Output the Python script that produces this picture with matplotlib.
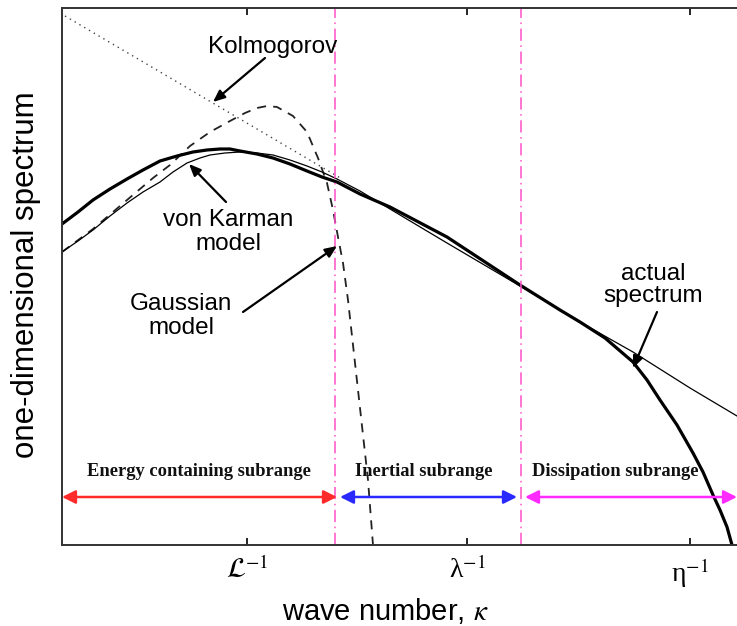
import matplotlib
matplotlib.use("Agg")
import matplotlib.pyplot as plt

# ---- data (x: log wave number, arbitrary units; y: log spectrum, arbitrary units)
actual_x = [0.00, 0.16, 0.31, 0.48, 0.65, 0.81, 0.98, 1.15, 1.31, 1.45, 1.58, 1.68,
            1.78, 1.95, 2.11, 2.28, 2.45, 2.60, 2.75, 2.98, 3.28, 3.85, 4.58, 4.98,
            5.18, 5.43, 5.71, 5.85, 5.98, 6.15, 6.31, 6.41, 6.51, 6.58, 6.65, 6.70]
actual_y = [3.21, 3.33, 3.45, 3.56, 3.66, 3.75, 3.84, 3.89, 3.93, 3.95, 3.96, 3.96,
            3.94, 3.91, 3.87, 3.81, 3.74, 3.68, 3.63, 3.51, 3.38, 3.08, 2.60, 2.35,
            2.23, 2.07, 1.83, 1.65, 1.45, 1.20, 0.92, 0.73, 0.50, 0.35, 0.18, 0.00]

karman_x = [0.00, 0.16, 0.31, 0.48, 0.65, 0.81, 0.98, 1.11, 1.25, 1.38, 1.48, 1.63,
            1.78, 1.95, 2.11, 2.28, 2.45, 2.60, 2.75, 2.98, 3.28, 3.85, 4.58, 5.25,
            5.71, 6.28, 6.75]
karman_y = [2.93, 3.04, 3.15, 3.29, 3.42, 3.53, 3.63, 3.73, 3.82, 3.87, 3.90, 3.92,
            3.93, 3.92, 3.90, 3.85, 3.79, 3.73, 3.66, 3.54, 3.36, 3.02, 2.59, 2.19,
            1.93, 1.57, 1.29]

gauss_x = [0.00, 0.31, 0.65, 0.91, 1.08, 1.28, 1.48, 1.68, 1.83, 1.95, 2.05, 2.15, 2.31,
           2.45, 2.56, 2.65, 2.71, 2.76, 2.81, 2.86, 2.91, 2.96, 3.01, 3.06, 3.11]
gauss_y = [2.93, 3.16, 3.45, 3.67, 3.80, 3.99, 4.13, 4.24, 4.32, 4.37, 4.39, 4.38, 4.29,
           4.13, 3.87, 3.62, 3.35, 3.08, 2.82, 2.45, 2.00, 1.55, 1.10, 0.65, 0.00]

kolmogorov_x = [0.03, 2.80]
kolmogorov_y = [5.29, 3.66]

tick_pos = [1.85, 4.05, 6.28]
tick_labels = [r'$\mathcal{L}^{-1}$', 'λ$^{-1}$', 'η$^{-1}$']

boundaries = [2.73, 4.59]
range_names = ["Energy containing subrange", "Inertial subrange", "Dissipation subrange"]
range_starts = [0.00, 2.78, 4.63]
range_ends = [2.75, 4.55, 6.75]
range_label_x = [1.37, 3.62, 5.53]
range_colors = ["#ff2a2a", "#2a2aff", "#ff2aff"]

# ---- figure
plt.rcParams['mathtext.fontset'] = 'stix'
fig = plt.figure(figsize=(7.37, 6.26), dpi=100)
W, H = 737, 626
ax = fig.add_axes([62 / W, (H - 545) / H, (737 - 62) / W, (545 - 8) / H])
ax.set_xlim(0, 6.75)
ax.set_ylim(0, 5.37)

ax.plot(kolmogorov_x, kolmogorov_y, color="#444444", lw=1.0, ls=(0, (1, 3)))
ax.plot(gauss_x, gauss_y, color="#222222", lw=1.3, ls=(0, (5, 4)))
ax.plot(karman_x, karman_y, color="black", lw=0.9)
ax.plot(actual_x, actual_y, color="black", lw=2.3, solid_joinstyle="round")

for b in boundaries:
    ax.axvline(b, color="#ff4fc8", lw=1.1, ls=(0, (8, 3, 1, 3)))

sans = ["Liberation Sans", "DejaVu Sans"]
for name, s, e, lx, c in zip(range_names, range_starts, range_ends, range_label_x, range_colors):
    ax.annotate("", xy=(e, 0.48), xytext=(s, 0.48),
                arrowprops=dict(arrowstyle="<|-|>,head_length=0.8,head_width=0.4",
                                color=c, lw=1.8, shrinkA=0, shrinkB=0),
                annotation_clip=False)
    ax.text(lx, 0.73, name, ha="center", va="center", fontsize=13.3,
            family="Liberation Serif", fontweight="bold", color="#111111")

arrow_kw = dict(arrowstyle="-|>,head_length=0.7,head_width=0.3", color="black",
                lw=1.6, shrinkA=0, shrinkB=0)

def px(xp, yp):
    return ((xp - 62) / 100.0, (545 - yp) / 100.0)

ax.text(*px(273, 47), "Kolmogorov", ha="center", va="center", fontsize=17.5, family=sans)
ax.annotate("", xy=px(213, 102), xytext=px(265, 58), arrowprops=arrow_kw)

ax.text(*px(228, 232), "von Karman\nmodel", ha="center", va="center", fontsize=17.5,
        family=sans, linespacing=1.15)
ax.annotate("", xy=px(189, 164), xytext=px(226, 202), arrowprops=arrow_kw)

ax.text(*px(181, 316), "Gaussian\nmodel", ha="center", va="center", fontsize=17.5,
        family=sans, linespacing=1.15)
ax.annotate("", xy=px(337, 246), xytext=px(243, 312), arrowprops=arrow_kw)

ax.text(*px(653, 285), "actual\nspectrum", ha="center", va="center", fontsize=17.5,
        family=sans, linespacing=1.0)
ax.annotate("", xy=px(633, 368), xytext=px(657, 312), arrowprops=arrow_kw)

ax.set_xticks(tick_pos)
ax.set_xticklabels(tick_labels, fontsize=20, family="Liberation Serif")
ax.set_yticks([])
ax.tick_params(axis="x", direction="in", top=True, length=5, width=1.2, pad=8)

for side in ["left", "top", "bottom"]:
    ax.spines[side].set_color("#333333")
    ax.spines[side].set_linewidth(1.4)
ax.spines["right"].set_visible(False)

ax.set_xlabel(r"wave number, $\kappa$", fontsize=21, family=sans)
ax.xaxis.set_label_coords((385 - 62) / 675, -(596 - 545) / 537)
ax.set_ylabel("one-dimensional spectrum", fontsize=22.5, family=sans)
ax.yaxis.set_label_coords(-(62 - 41) / 675, (545 - 275) / 537)

fig.savefig("out.png", dpi=100)
